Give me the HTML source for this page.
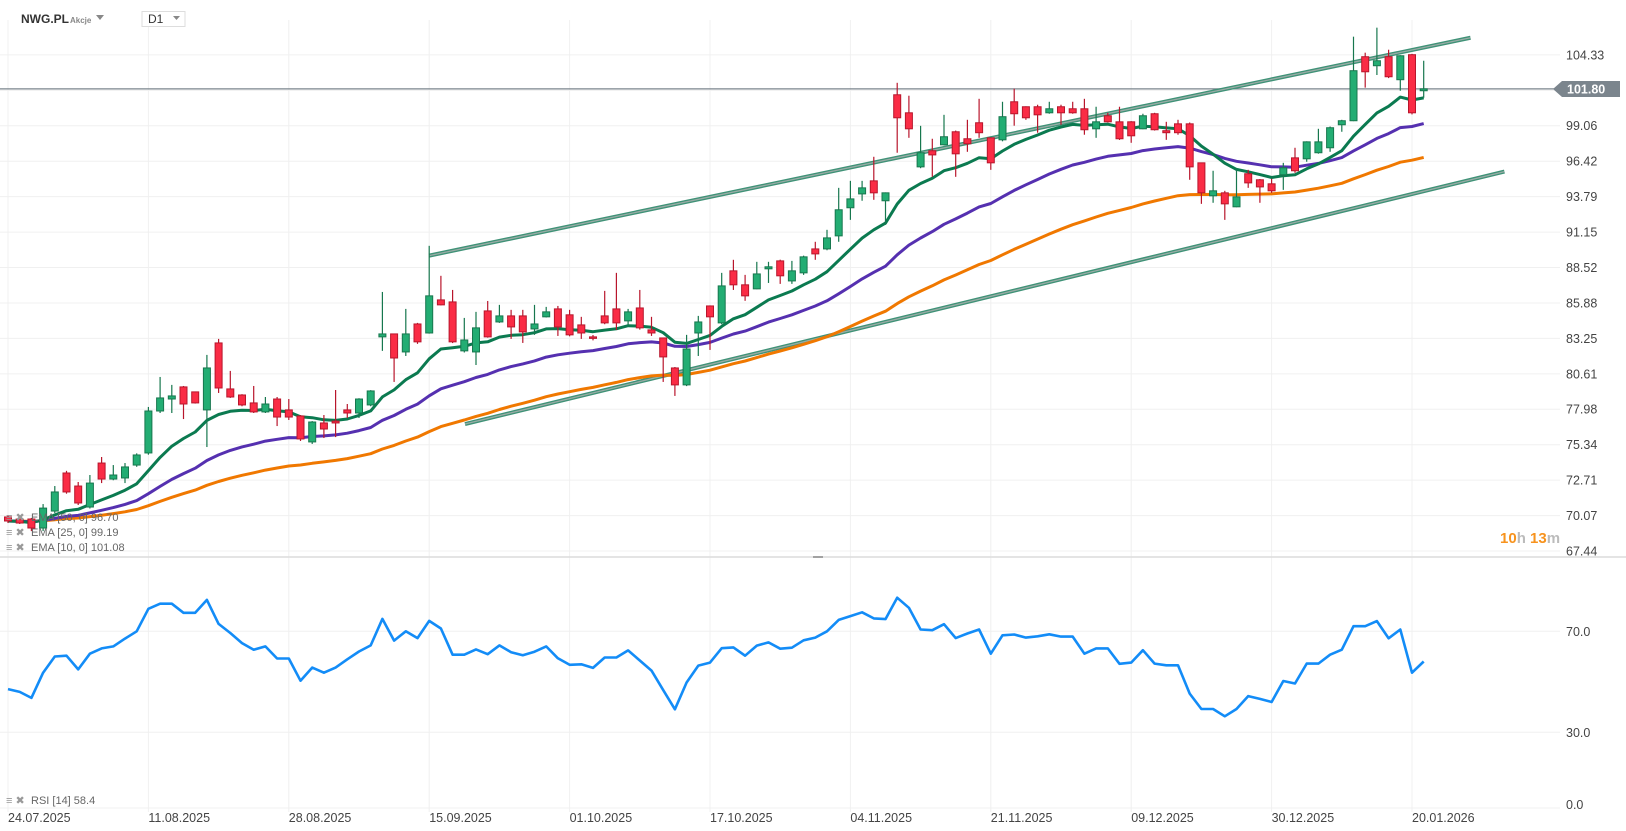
<!DOCTYPE html>
<html><head><meta charset="utf-8"><title>NWG.PL D1</title>
<style>
html,body{margin:0;padding:0;background:#fff;}
svg{display:block;font-family:"Liberation Sans",Arial,sans-serif;}
</style></head>
<body>
<svg id="chart" width="1626" height="831" viewBox="0 0 1626 831" xmlns="http://www.w3.org/2000/svg">
  <rect x="0" y="0" width="1626" height="831" fill="#fff"/>
  <g id="grid"></g>
  <g id="trend"></g>
  <g id="emas"></g>
  <g id="candles"></g>
  <g id="rsi"></g>
  <g id="axes"></g>

  <line x1="0" y1="557" x2="1626" y2="557" stroke="#dcdcdc" stroke-width="1.5"/>
  <line x1="813" y1="557" x2="823" y2="557" stroke="#888" stroke-width="1.5"/>

  <g>
    <text x="21" y="23" font-size="12" font-weight="bold" fill="#333">NWG.PL</text>
    <text x="70" y="23" font-size="8" font-weight="bold" fill="#888">Akcje</text>
    <path d="M96 15 L104 15 L100 20 Z" fill="#888"/>
    <rect x="142" y="11.5" width="43" height="15" fill="#fff" stroke="#ddd"/>
    <text x="148" y="23" font-size="12" fill="#333">D1</text>
    <path d="M173 16 L180 16 L176.5 20 Z" fill="#888"/>
  </g>

  <g>
    <path d="M1553 89 L1562 81 L1620 81 L1620 97 L1562 97 Z" fill="#7b858d"/>
    <text x="1567" y="93.5" font-size="12.5" font-weight="bold" fill="#fff">101.80</text>
  </g>

  <text x="1500" y="543" font-size="15" font-weight="bold"><tspan fill="#f7931e">10</tspan><tspan fill="#bbb">h </tspan><tspan fill="#f7931e">13</tspan><tspan fill="#bbb">m</tspan></text>

  <g font-size="11" fill="#666">
    <text x="6" y="521" fill="#999" font-size="11">≡ ✖</text>
    <text x="31" y="521">EMA [50, 0] 96.70</text>
    <text x="6" y="536" fill="#999" font-size="11">≡ ✖</text>
    <text x="31" y="536">EMA [25, 0] 99.19</text>
    <text x="6" y="551" fill="#999" font-size="11">≡ ✖</text>
    <text x="31" y="551">EMA [10, 0] 101.08</text>
    <text x="6" y="804" fill="#999" font-size="11">≡ ✖</text>
    <text x="31" y="804">RSI [14] 58.4</text>
  </g>
</svg>
<script>
const opens = [69.97,69.82,69.82,69.15,70.41,73.24,72.27,70.71,73.98,72.79,
72.87,73.83,74.73,77.85,78.74,79.64,79.27,77.93,82.91,79.49,
79.04,78.45,77.78,78.74,77.93,77.48,75.55,76.96,77.10,77.93,
77.70,78.30,83.36,83.58,82.24,84.32,83.65,86.11,85.96,82.32,
82.24,85.29,84.47,84.92,84.92,83.95,84.85,85.44,85.00,84.25,
83.36,84.92,85.44,84.55,85.51,83.88,83.28,81.05,79.79,83.65,
85.66,84.40,88.27,87.23,86.93,88.42,89.01,87.52,88.12,89.90,
89.90,90.87,92.96,93.99,94.96,93.48,101.36,100.02,96.00,97.20,
97.64,98.61,98.09,99.28,98.16,98.01,100.84,100.47,100.47,100.02,
100.47,100.32,100.32,98.83,99.80,99.35,99.35,98.83,99.95,98.69,
99.20,99.20,96.30,93.85,94.07,93.03,95.49,95.04,94.74,95.41,
96.67,96.60,97.05,97.42,99.13,99.43,104.19,103.52,104.19,102.48,
104.34,101.66];
const highs = [70.11,69.97,69.90,70.93,72.27,73.40,72.57,73.09,74.43,73.83,
73.98,74.70,78.15,80.38,79.79,79.71,79.30,82.02,83.21,80.83,
79.10,79.71,78.89,78.89,78.74,77.55,77.10,77.55,79.41,78.37,
78.80,79.40,86.70,83.60,85.44,84.40,90.13,87.90,86.85,84.77,
85.22,86.03,85.74,85.37,85.37,85.74,85.59,85.66,85.37,84.85,
83.50,86.78,88.12,85.44,86.85,84.85,83.30,81.12,83.51,84.92,
85.70,88.12,89.09,87.97,88.94,88.94,89.10,89.01,89.40,90.43,
91.32,94.44,94.96,94.96,96.75,94.10,102.25,101.29,99.05,98.09,
99.87,98.70,99.50,101.06,98.20,100.84,101.81,100.50,100.62,100.84,
100.62,100.84,101.06,100.47,100.02,100.47,99.40,99.95,100.02,99.35,
99.50,99.30,96.30,95.71,94.22,95.78,95.78,95.10,95.11,96.30,
97.42,97.90,98.83,99.00,99.50,105.68,104.49,106.35,104.71,104.30,
104.40,103.89];
const lows = [69.52,69.45,68.92,68.92,70.26,71.70,70.86,70.60,72.49,72.70,
72.49,73.70,74.60,77.70,77.70,77.25,78.40,75.17,79.19,78.82,
78.20,77.70,77.70,76.73,77.18,75.62,75.40,75.84,75.91,77.33,
77.33,78.20,82.32,80.01,81.94,82.84,83.60,85.70,82.90,82.20,
81.27,83.30,84.40,83.21,82.91,83.51,84.80,83.43,83.40,83.21,
83.10,84.30,83.88,84.25,83.90,83.43,80.01,78.97,79.70,81.94,
82.39,84.30,86.85,86.04,86.90,87.37,87.30,87.30,87.97,89.09,
89.80,90.43,92.06,93.48,93.55,91.69,97.05,98.16,95.90,95.26,
97.60,95.26,97.12,98.16,95.78,97.90,99.06,99.50,98.54,99.95,
99.13,99.95,98.39,98.16,99.30,98.00,97.79,98.80,98.70,98.01,
98.39,95.04,93.25,93.33,92.06,93.00,94.44,93.33,94.07,94.29,
95.56,96.38,96.98,97.12,98.61,99.40,101.89,102.83,102.60,101.66,
99.90,101.14];
const closes = [69.67,69.52,69.15,70.63,71.83,71.83,71.01,72.49,72.79,73.09,
73.69,74.58,77.85,78.82,78.97,78.37,78.45,81.05,79.56,78.89,
78.30,77.78,78.37,77.40,77.40,75.77,77.03,76.51,76.96,77.70,
78.74,79.34,83.58,81.79,83.58,82.99,86.41,85.74,82.99,83.13,
84.03,83.36,84.92,84.10,83.73,84.32,85.22,84.10,83.51,83.65,
83.29,84.40,84.40,85.22,84.03,83.65,81.87,79.79,82.46,84.47,
84.85,87.15,87.23,86.41,88.04,88.57,87.90,88.27,89.31,89.53,
90.72,92.81,93.62,94.44,94.07,94.07,99.65,98.83,97.05,96.89,
98.24,96.97,97.72,98.54,96.30,99.73,99.95,99.65,99.87,100.32,
100.02,100.02,98.76,99.35,99.35,98.09,98.31,99.80,98.76,98.54,
98.54,96.00,94.07,94.22,93.25,93.77,94.81,94.51,94.22,95.93,
95.71,97.86,97.86,98.91,99.43,103.15,103.07,103.89,102.70,104.26,
100.02,101.80];
const rsiValues = [47.1,46.0,43.6,53.6,60.0,60.3,54.9,61.1,63.2,64.0,
67.1,70.0,78.9,80.9,80.9,77.3,77.3,82.4,72.9,69.3,
65.3,62.7,64.0,59.2,59.2,50.4,55.6,53.6,55.6,58.9,
62.0,64.4,74.9,66.3,70.0,67.3,74.1,71.1,60.7,60.7,
62.8,60.9,64.4,61.7,60.5,61.9,64.0,59.3,56.7,56.9,
55.5,59.6,59.6,62.4,58.4,54.4,46.7,39.1,49.7,56.4,
57.6,63.3,63.6,60.3,64.3,65.6,63.1,63.5,66.4,67.5,
70.0,74.5,76.0,77.5,75.1,74.8,83.3,79.3,70.7,70.4,
72.8,67.3,69.1,70.7,61.1,68.4,68.7,67.5,68.0,68.8,
67.9,67.9,61.1,63.2,63.2,57.1,57.6,62.5,57.2,56.5,
56.5,45.3,39.2,39.2,36.3,39.2,44.3,43.2,42.0,50.3,
49.3,57.2,57.2,60.7,62.7,72.0,72.0,74.0,67.2,70.7,
53.6,58.0];
const priceTicks = [104.33,101.69,99.06,96.42,93.79,91.15,88.52,85.88,83.25,80.61,77.98,75.34,72.71,70.07,67.44];
const rsiTicks = [70.0,30.0,0.0];
const dateLabels = ["24.07.2025","11.08.2025","28.08.2025","15.09.2025","01.10.2025","17.10.2025","04.11.2025","21.11.2025","09.12.2025","30.12.2025","20.01.2026"];
const dateIndex = [0,12,24,36,48,60,72,84,96,108,120];
const emaPeriods = [50,25,10];
const upperTrend = [[36,89.4],[125,105.6]];
const lowerTrend = [[39.06,76.88],[127.9,95.65]];
const currentPrice = 101.80;

const NS = "http://www.w3.org/2000/svg";
const xOf = i => 8 + i * 11.7;
const yP = p => 551 - (p - 67.44) * 13.45;
const yR = v => 808 - v * 2.525;
function mk(tag, attrs, parent) {
  const e = document.createElementNS(NS, tag);
  for (const k in attrs) e.setAttribute(k, attrs[k]);
  parent.appendChild(e);
  return e;
}
const grid = document.getElementById('grid');
const axes = document.getElementById('axes');
priceTicks.forEach((p, k) => {
  const l = mk('line', {x1: 0, x2: 1560, y1: yP(p), y2: yP(p), stroke: '#f0f0f0', 'stroke-width': 1}, grid);
  
  
  if (Math.abs(p - currentPrice) > 0.6) {
    const t = mk('text', {x: 1566, y: yP(p) + 4.5, 'font-size': 12.5, fill: '#444'}, axes);
    t.textContent = p.toFixed(2);
    
    
  }
});
rsiTicks.forEach(v => {
  const l = mk('line', {x1: 0, x2: 1560, y1: yR(v), y2: yR(v), stroke: '#f0f0f0', 'stroke-width': 1}, grid);
  
  
  const t = mk('text', {x: 1566, y: yR(v) + (v === 0 ? 1 : 4.5), 'font-size': 12.5, fill: '#444'}, axes);
  t.textContent = v.toFixed(1);
  
  
});
dateIndex.forEach((i, k) => {
  const x = xOf(i);
  const l = mk('line', {x1: x, x2: x, y1: 20, y2: 812, stroke: '#f0f0f0', 'stroke-width': 1}, grid);
  
  
  const t = mk('text', {x: x, y: 822, 'font-size': 12.5, fill: '#444'}, axes);
  t.textContent = dateLabels[k];
  
  
});
const cp = mk('line', {x1: 0, x2: 1555, y1: yP(currentPrice), y2: yP(currentPrice), stroke: '#7b858d', 'stroke-width': 1.2}, grid);



const trend = document.getElementById('trend');
[upperTrend, lowerTrend].forEach((tl, k) => {
  const a = {x1: xOf(tl[0][0]), y1: yP(tl[0][1]), x2: xOf(tl[1][0]), y2: yP(tl[1][1])};
  const o = mk('line', Object.assign({stroke: '#3f9277', 'stroke-width': 4}, a), trend);
  
  
  const c = mk('line', Object.assign({stroke: '#9aaca6', 'stroke-width': 1.3}, a), trend);
  
  
});

const emaColors = {50: '#f07800', 25: '#5530b0', 10: '#0b7a50'};
const emaG = document.getElementById('emas');
emaPeriods.forEach(n => {
  const a = 2 / (n + 1);
  let e = closes[0];
  const pts = closes.map((c, i) => { if (i > 0) e = a * c + (1 - a) * e; return xOf(i).toFixed(1) + ',' + yP(e).toFixed(1); });
  const pl = mk('polyline', {points: pts.join(' '), fill: 'none', stroke: emaColors[n], 'stroke-width': 3, 'stroke-linejoin': 'round'}, emaG);
  
  
});

const cg = document.getElementById('candles');
closes.forEach((c, i) => {
  const o = opens[i], up = c >= o;
  const fill = up ? '#23ad73' : '#fa2c45';
  const stroke = up ? '#17774e' : '#b8162c';
  const x = xOf(i);
  const g = mk('g', {}, cg);
  
  
  mk('line', {x1: x, x2: x, y1: yP(highs[i]), y2: yP(lows[i]), stroke: stroke, 'stroke-width': 1.2}, g);
  const top = yP(Math.max(o, c)), bot = yP(Math.min(o, c));
  mk('rect', {x: x - 3.5, y: top, width: 7, height: Math.max(1.5, bot - top), fill: fill, stroke: stroke, 'stroke-width': 1}, g);
});

const rg = document.getElementById('rsi');
const rl = mk('polyline', {points: rsiValues.map((v, i) => xOf(i).toFixed(1) + ',' + yR(v).toFixed(1)).join(' '), fill: 'none', stroke: '#138cf7', 'stroke-width': 2.6, 'stroke-linejoin': 'round'}, rg);


</script>
</body></html>
